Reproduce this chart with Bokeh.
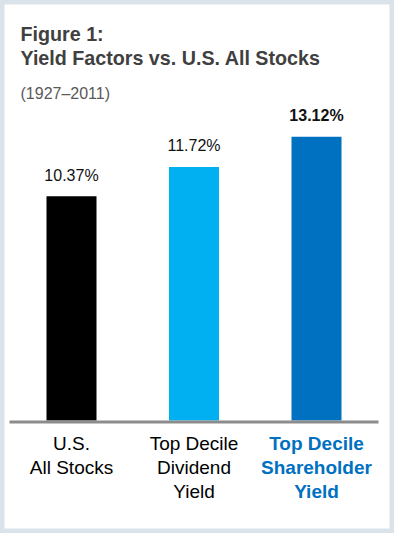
from bokeh.plotting import figure
from bokeh.models import Range1d, Label, BoxAnnotation, ColumnDataSource
from bokeh.embed import file_html
from bokeh.resources import INLINE
from bokeh.core.properties import value

# ---- data ----
categories = ["U.S.\nAll Stocks", "Top Decile\nDividend\nYield", "Top Decile\nShareholder\nYield"]
returns = [10.37, 11.72, 13.12]
value_labels = ["10.37%", "11.72%", "13.12%"]
bar_colors = ["#000000", "#00b0f0", "#0070c0"]
cat_colors = ["#000000", "#000000", "#0070c0"]
cat_styles = ["normal", "normal", "bold"]
val_styles = ["normal", "normal", "bold"]
title_line1 = "Figure 1:"
title_line2 = "Yield Factors vs. U.S. All Stocks"
subtitle = "(1927\u20132011)"

# ---- geometry (pixels) ----
W, H = 394, 533
PX_X = 122.5      # pixels per category step
X0 = 71.0         # pixel x of first category centre
PX_Y = 21.63      # pixels per percentage point
Y0 = 420.0        # pixel y (from top) of zero line

xs = Range1d(-X0 / PX_X, (W - X0) / PX_X)
ys = Range1d(-(H - Y0) / PX_Y, Y0 / PX_Y)

def dx(px):
    return xs.start + px / PX_X

def dy(py):
    return (Y0 - py) / PX_Y

FONT = "Liberation Sans"

p = figure(width=W, height=H, x_range=xs, y_range=ys, output_backend="svg",
           toolbar_location=None, x_axis_location=None, y_axis_location=None,
           min_border=0, title=None)
p.grid.visible = False
p.background_fill_color = "white"
p.border_fill_color = "white"
p.outline_line_color = "#dbe3ea"
p.outline_line_width = 8

src = ColumnDataSource(dict(
    idx=list(range(len(categories))),
    cat=categories,
    ret=returns,
    lab=value_labels,
    bc=bar_colors,
    cc=cat_colors,
    cs=cat_styles,
    vs=val_styles,
))

p.vbar(x="idx", top="ret", bottom=0, width=50 / PX_X, fill_color="bc",
       line_color=None, source=src)

p.text(x="idx", y="ret", text="lab", source=src, text_align="center",
       text_baseline="alphabetic", y_offset=-21,
       text_font=value(FONT), text_font_size="16px", text_font_style="vs",
       text_color="#111111")

p.text(x="idx", y=0, text="cat", source=src, text_align="center",
       text_baseline="top", y_offset=12, text_line_height=1.155,
       text_font=value(FONT), text_font_size="19px", text_font_style="cs",
       text_color="cc")

# zero baseline
p.add_layout(BoxAnnotation(left=dx(9), right=dx(378), top=0, bottom=-3 / PX_Y,
                           fill_color="#8c8c8c", fill_alpha=1, line_color=None))

p.add_layout(Label(x=dx(20), y=dy(33), text=title_line1, text_font=FONT,
                   text_font_size="19.7px", text_font_style="bold",
                   text_color="#404040", text_baseline="alphabetic"))
p.add_layout(Label(x=dx(20), y=dy(57), text=title_line2, text_font=FONT,
                   text_font_size="19.7px", text_font_style="bold",
                   text_color="#404040", text_baseline="alphabetic"))
p.add_layout(Label(x=dx(20), y=dy(93), text=subtitle, text_font=FONT,
                   text_font_size="16px", text_font_style="normal",
                   text_color="#595959", text_baseline="alphabetic"))

open("out.html", "w").write(file_html(p, INLINE))
